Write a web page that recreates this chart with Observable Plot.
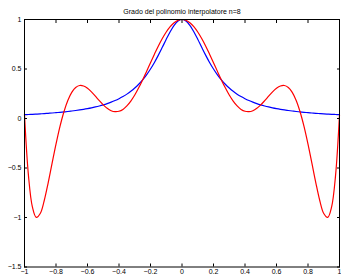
<!DOCTYPE html>
<html><head><meta charset="utf-8">
<script src="https://cdn.jsdelivr.net/npm/d3@7"></script>
<script src="https://cdn.jsdelivr.net/npm/@observablehq/plot@0.6"></script>
<style>body{margin:0;background:#fff}</style>
</head><body><div id="chart"></div>
<script>
const title = "Grado del polinomio interpolatore n=8";
const xs = [-1,-0.975,-0.95,-0.925,-0.9,-0.875,-0.85,-0.825,-0.8,-0.775,-0.75,-0.725,-0.7,-0.675,-0.65,-0.625,-0.6,-0.575,-0.55,-0.525,-0.5,-0.475,-0.45,-0.425,-0.4,-0.375,-0.35,-0.325,-0.3,-0.275,-0.25,-0.225,-0.2,-0.175,-0.15,-0.125,-0.1,-0.075,-0.05,-0.025,0,0.025,0.05,0.075,0.1,0.125,0.15,0.175,0.2,0.225,0.25,0.275,0.3,0.325,0.35,0.375,0.4,0.425,0.45,0.475,0.5,0.525,0.55,0.575,0.6,0.625,0.65,0.675,0.7,0.725,0.75,0.775,0.8,0.825,0.85,0.875,0.9,0.925,0.95,0.975,1];
const blue = [0.0385,0.0404,0.0425,0.0447,0.0471,0.0497,0.0525,0.0555,0.0588,0.0624,0.0664,0.0707,0.0755,0.0807,0.0865,0.0929,0.1,0.1079,0.1168,0.1267,0.1379,0.1506,0.1649,0.1813,0.2,0.2215,0.2462,0.2747,0.3077,0.3459,0.3902,0.4414,0.5,0.5664,0.64,0.7191,0.8,0.8767,0.9412,0.9846,1,0.9846,0.9412,0.8767,0.8,0.7191,0.64,0.5664,0.5,0.4414,0.3902,0.3459,0.3077,0.2747,0.2462,0.2215,0.2,0.1813,0.1649,0.1506,0.1379,0.1267,0.1168,0.1079,0.1,0.0929,0.0865,0.0807,0.0755,0.0707,0.0664,0.0624,0.0588,0.0555,0.0525,0.0497,0.0471,0.0447,0.0425,0.0404,0.0385];
const red = [0.038,-0.574,-0.892,-0.999,-0.960,-0.831,-0.652,-0.454,-0.259,-0.082,0.066,0.182,0.264,0.313,0.333,0.328,0.305,0.269,0.225,0.180,0.138,0.103,0.079,0.069,0.073,0.092,0.127,0.176,0.237,0.310,0.390,0.476,0.564,0.650,0.733,0.808,0.874,0.928,0.967,0.992,1,0.992,0.967,0.928,0.874,0.808,0.733,0.650,0.564,0.476,0.390,0.310,0.237,0.176,0.127,0.092,0.073,0.069,0.079,0.103,0.138,0.180,0.225,0.269,0.305,0.328,0.333,0.313,0.264,0.182,0.066,-0.082,-0.259,-0.454,-0.652,-0.831,-0.960,-0.999,-0.892,-0.574,0.038];
const xTicks = [-1,-0.8,-0.6,-0.4,-0.2,0,0.2,0.4,0.6,0.8,1];
const yTicks = [-1.5,-1,-0.5,0,0.5,1];

const blueData = xs.map((x,i)=>({x, y: blue[i]}));
const redData = xs.map((x,i)=>({x, y: red[i]}));
const font = "Liberation Sans, Arial, sans-serif";
const empty = () => "";
const fmt = d3.format("~g");

const chart = Plot.plot({
  width: 341, height: 274,
  marginLeft: 24, marginRight: 2, marginTop: 19, marginBottom: 7.5,
  style: {fontFamily: font, fontSize: "7px", background: "#fff", color: "#000"},
  x: {domain: [-1, 1]},
  y: {domain: [-1.5, 1]},
  marks: [
    Plot.line(blueData, {x: "x", y: "y", stroke: "#0000ff", strokeWidth: 1.2, curve: "catmull-rom"}),
    Plot.line(redData, {x: "x", y: "y", stroke: "#ff0000", strokeWidth: 1.2, curve: "catmull-rom"}),
    Plot.frame({stroke: "#000", strokeWidth: 1}),
    Plot.axisX({anchor: "bottom", ticks: xTicks, tickSize: -3, tickFormat: empty, label: null}),
    Plot.axisX({anchor: "top", ticks: xTicks, tickSize: -3, tickFormat: empty, label: null}),
    Plot.axisY({anchor: "left", ticks: yTicks, tickSize: -3, tickFormat: empty, label: null}),
    Plot.axisY({anchor: "right", ticks: yTicks, tickSize: -3, tickFormat: empty, label: null}),
    Plot.axisX({anchor: "bottom", ticks: xTicks, tickSize: 0, tickPadding: 2, tickFormat: fmt, label: null, fill: "#000"}),
    Plot.axisY({anchor: "left", ticks: yTicks, tickSize: 0, tickPadding: 3, tickFormat: fmt, label: null, fill: "#000"}),
    Plot.text([title], {text: d => d, frameAnchor: "top", dy: -10, fontSize: 7, fill: "#000"})
  ]
});
document.getElementById("chart").appendChild(chart);
</script>
</body></html>
